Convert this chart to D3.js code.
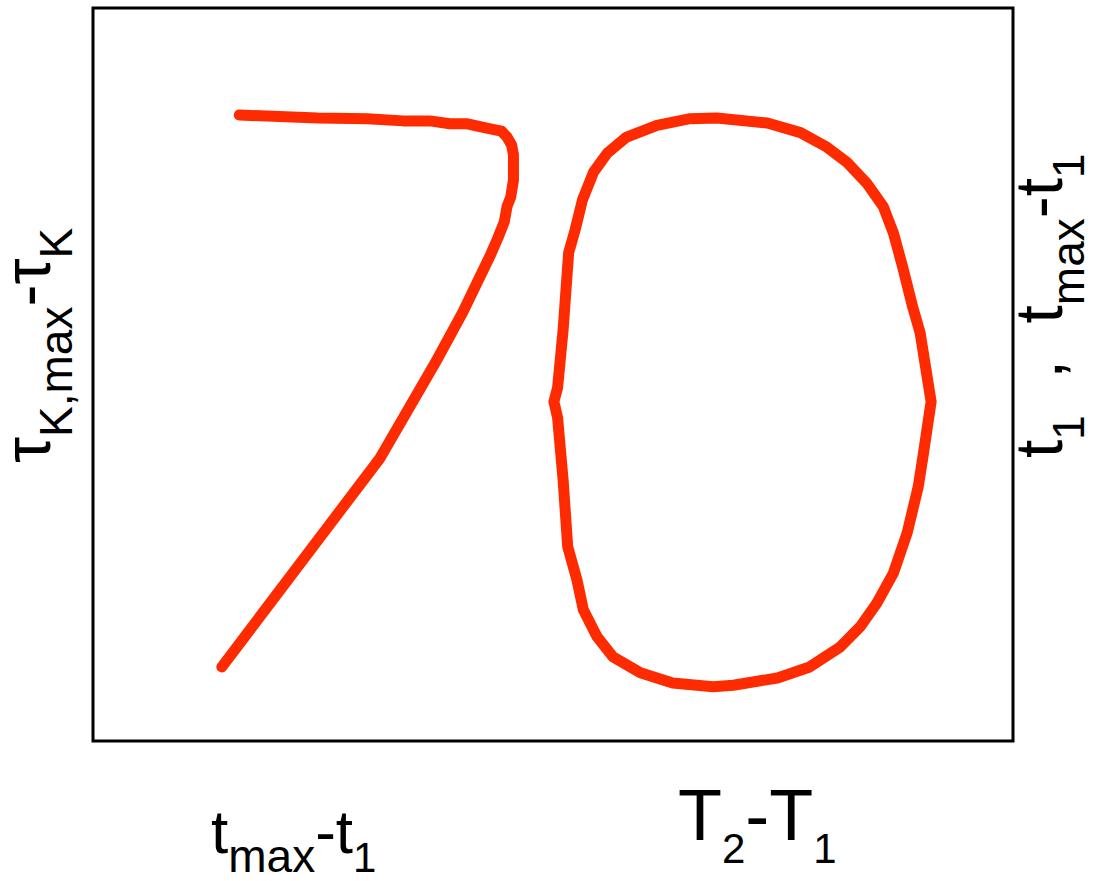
<!DOCTYPE html>
<html>
<head>
<meta charset="utf-8">
<script src="https://cdn.jsdelivr.net/npm/d3@7"></script>
<style>
  html, body { margin: 0; padding: 0; background: #fff; }
  svg { display: block; }
  text { font-family: "Liberation Sans", Arial, sans-serif; fill: #000; }
</style>
</head>
<body>
<svg id="chart" width="1095" height="881"></svg>
<script>
// Open curve: tau_K,max - tau_K against t_max - t_1 (the "7")
const hookX = [15.9, 24.4, 29.8, 33.7, 36.6, 38.8, 40.7, 42.8, 43.6, 44.4, 45.0, 45.5, 45.7, 45.7, 45.4, 45.0, 44.7, 44.0, 43.2, 40.2, 37.2, 31.2, 14.0];
const hookY = [85.4, 85.0, 84.9, 84.6, 84.6, 84.2, 84.2, 83.6, 83.4, 83.2, 82.4, 81.3, 80.0, 76.5, 74.2, 72.9, 70.8, 68.6, 66.3, 58.5, 51.6, 38.6, 10.1];

// Closed loop: t_1, t_max - t_1 against T_2 - T_1 (the "0")
const loopX = [50.1, 50.5, 51.1, 51.7, 52.4, 53.2, 54.4, 55.9, 58.0, 61.3, 64.9, 67.8, 73.3, 76.9, 79.8, 82.0, 84.1, 85.9, 87.0, 88.0, 89.1, 89.9, 91.1,
               90.2, 89.7, 88.5, 87.0, 85.2, 83.4, 81.2, 77.9, 74.4, 69.6, 67.4, 63.0, 59.5, 56.5, 54.8, 53.3, 52.6, 51.6, 51.1, 50.5, 50.1];
const loopY = [46.3, 48.2, 56.1, 66.6, 69.7, 73.8, 77.6, 80.2, 82.4, 84.0, 84.9, 85.0, 84.3, 83.0, 81.0, 78.9, 76.1, 72.9, 69.3, 64.7, 59.2, 55.7, 46.3,
               38.7, 34.7, 28.4, 22.9, 18.8, 15.6, 12.8, 10.1, 8.6, 7.6, 7.4, 7.9, 9.3, 11.5, 14.2, 17.9, 22.0, 26.5, 35.6, 44.1, 46.3];

const svg = d3.select("#chart");
const plot = { left: 93, right: 1013, top: 8, bottom: 741 };

const x = d3.scaleLinear().domain([0, 100]).range([plot.left, plot.right]);
const y = d3.scaleLinear().domain([0, 100]).range([plot.bottom, plot.top]);

const red = "#ff2b00";
const line = d3.line().x(d => x(d[0])).y(d => y(d[1])).curve(d3.curveLinear);

const series = [
  d3.zip(hookX, hookY),
  d3.zip(loopX, loopY)
];

svg.append("g")
  .selectAll("path")
  .data(series)
  .join("path")
  .attr("d", line)
  .attr("fill", "none")
  .attr("stroke", red)
  .attr("stroke-width", 11)
  .attr("stroke-linejoin", "round")
  .attr("stroke-linecap", "round");

// Plot frame
svg.append("rect")
  .attr("x", x(0))
  .attr("y", y(100))
  .attr("width", x(100) - x(0))
  .attr("height", y(0) - y(100))
  .attr("fill", "none")
  .attr("stroke", "#000")
  .attr("stroke-width", 3);

// Label helper: parts are [text, size, shift]
function label(g, parts) {
  const t = g.append("text");
  parts.forEach(([s, size, shift]) => {
    t.append("tspan")
      .attr("font-size", size)
      .attr("dy", shift)
      .text(s);
  });
  return t;
}

// Bottom labels
label(svg.append("g").attr("transform", "translate(211,853)"),
  [["t", 62, 0], ["max", 46, 19], ["-t", 62, -19], ["1", 42, 19]]);

label(svg.append("g").attr("transform", "translate(678,840)"),
  [["T", 72, 0], ["2", 42, 23], ["-T", 72, -23], ["1", 42, 23]]);

// Left label (rotated)
label(svg.append("g").attr("transform", "translate(50,463) rotate(-90)"),
  [["τ", 66, 0], ["K,max", 46, 22], ["-τ", 66, -22], ["K", 46, 22]]);

// Right label (rotated)
label(svg.append("g").attr("transform", "translate(1062,458) rotate(-90)"),
  [["t", 66, 0], ["1", 44, 22], ["  ,  t", 66, -22], ["max", 46, 22], ["-t", 66, -22], ["1", 44, 22]])
  .attr("xml:space", "preserve")
  .style("white-space", "pre");
</script>
</body>
</html>
